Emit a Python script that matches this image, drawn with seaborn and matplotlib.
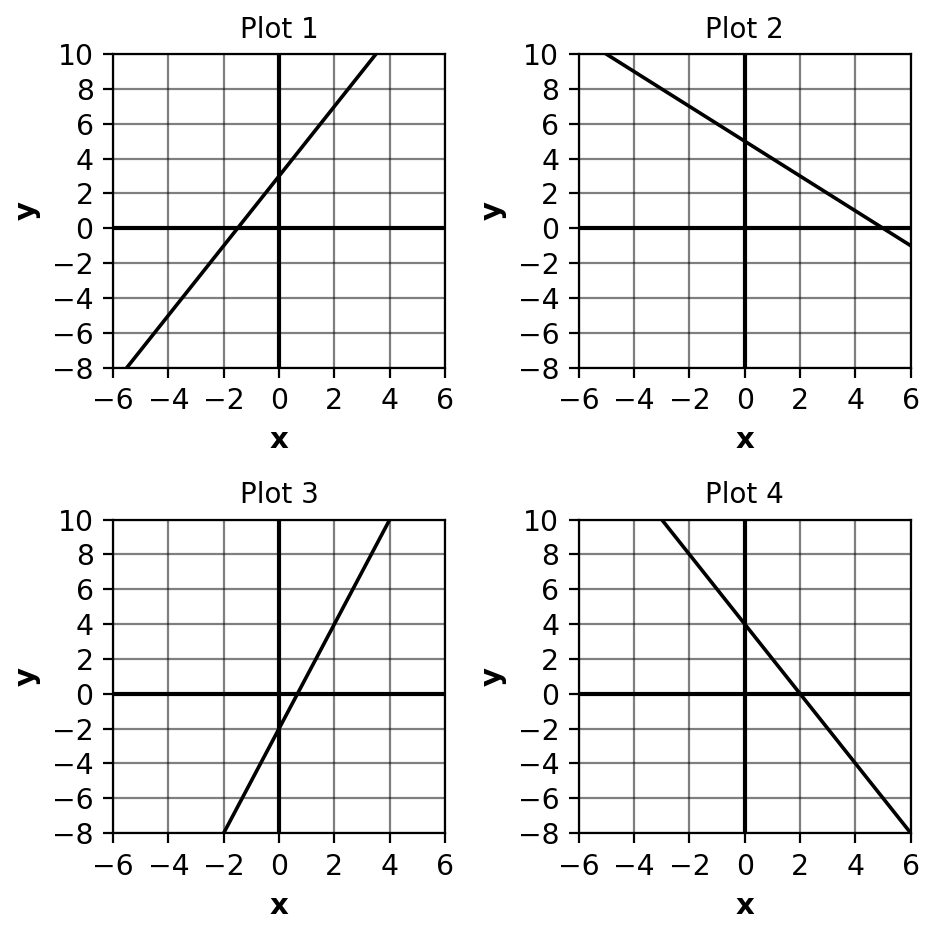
import matplotlib
matplotlib.use("Agg")
import matplotlib.pyplot as plt
import seaborn as sns
import pandas as pd

titles = ["Plot 1", "Plot 2", "Plot 3", "Plot 4"]
# endpoints of each line
line_x = [[-6, 6], [-6, 6], [-6, 6], [-6, 6]]
line_y = [[-9, 15], [11, -1], [-20, 16], [16, -8]]
x_ticks = [-6, -4, -2, 0, 2, 4, 6]
y_ticks = [-8, -6, -4, -2, 0, 2, 4, 6, 8, 10]

fig, axes = plt.subplots(2, 2, figsize=(4.69, 4.67), dpi=200)

for ax, title, xs, ys in zip(axes.flat, titles, line_x, line_y):
    df = pd.DataFrame({"x": xs, "y": ys})
    sns.lineplot(data=df, x="x", y="y", ax=ax, color="black", linewidth=1.3)
    ax.axhline(0, color="black", linewidth=1.5)
    ax.axvline(0, color="black", linewidth=1.5)
    ax.set_xlim(-6, 6)
    ax.set_ylim(-8, 10)
    ax.set_xticks(x_ticks)
    ax.set_yticks(y_ticks)
    ax.tick_params(labelsize=10.2)
    ax.grid(True, color="black", alpha=0.5, linewidth=0.8)
    ax.set_title(title, fontsize=10)
    ax.set_xlabel("x", fontweight="bold", fontsize=10.5)
    ax.set_ylabel("y", fontweight="bold", fontsize=10.5)

fig.subplots_adjust(left=0.1205, right=0.971, top=0.942, bottom=0.108,
                    wspace=0.403, hspace=0.485)
plt.savefig("out.png", dpi=200)
